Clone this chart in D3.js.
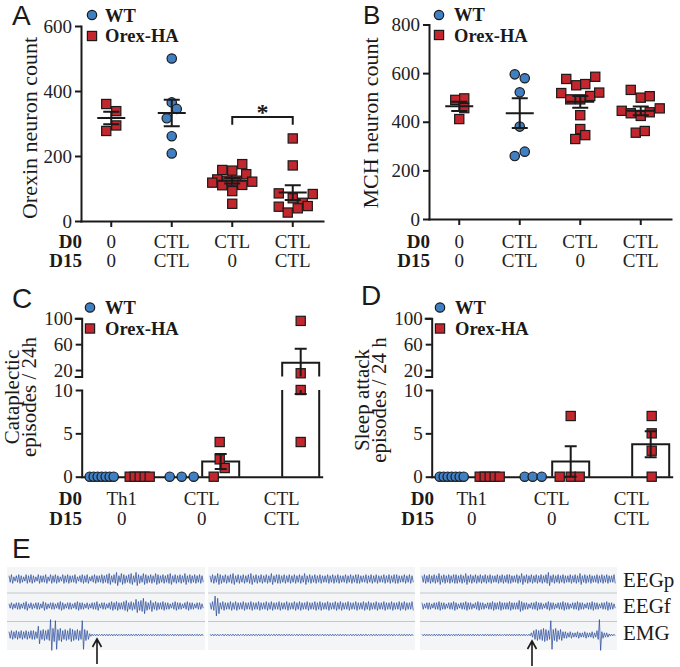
<!DOCTYPE html>
<html><head><meta charset="utf-8">
<script src="https://cdn.jsdelivr.net/npm/d3@7"></script>
<style>body{margin:0;background:#fff}svg{display:block}</style>
</head><body>
<svg id="fig" width="680" height="667"></svg>
<script>
// ---------------- DATA ----------------
// Panels A & B: four groups (D0 / D15 treatment)
const abCats = ["0/0", "CTL/CTL (WT)", "CTL/0", "CTL/CTL"];
const abD0 = ["0", "CTL", "CTL", "CTL"];
const abD15 = ["0", "CTL", "0", "CTL"];
const abGenotype = ["Orex-HA", "WT", "Orex-HA", "Orex-HA"];
const orexinTicks = [0, 200, 400, 600];
const mchTicks = [0, 200, 400, 600, 800];
const orexinValues = [
  [360, 338, 294, 277],
  [500, 365, 345, 316, 261, 208],
  [157, 155, 175, 128, 124, 124, 144, 118, 110, 111, 121, 92, 53],
  [254, 171, 85, 83, 70, 56, 44, 46, 39, 26]
];
const orexinJitter = [
  [-5, 5, 5, -5],
  [0, 0, 5, -5, 0, 0],
  [-10, 0, 10, -15, -5, 4, 14, -20, -10, 10, 20, 0, 0],
  [0, 0, -14, 20, 0, 10, -14, 15, 5, -5]
];
const mchValues = [
  [490, 496, 456, 411],
  [595, 579, 521, 380, 259, 277],
  [576, 550, 555, 585, 518, 492, 492, 506, 520, 427, 370, 345, 329],
  [531, 499, 505, 445, 435, 424, 439, 455, 355, 362]
];
const mchJitter = [
  [-4, 5, 5, 0],
  [-5, 5, 0, 0, -5, 5],
  [-14, -4, 5, 15, -19, -10, 0, 10, 19, 0, 0, 5, -5],
  [-10, 0, 9, -19, -10, 0, 9, 19, -5, 4]
];
const sigPairA = ["CTL/0", "CTL/CTL"];
const sigLegA = 296, sigTopA = 320;

// Panels C & D: six sub-groups (3 treatments x genotype)
const cdCats = ["Th1 WT", "Th1 Orex", "CTL0 WT", "CTL0 Orex", "CTLCTL WT", "CTLCTL Orex"];
const cdGenotype = ["WT", "Orex-HA", "WT", "Orex-HA", "WT", "Orex-HA"];
const cdD0 = ["Th1", "CTL", "CTL"];
const cdD15 = ["0", "0", "CTL"];
const lowTicks = [0, 5, 10];
const highTicks = [20, 60, 100];
const cataValues = [
  [0, 0, 0, 0, 0, 0, 0], [0, 0, 0, 0, 0], [0, 0, 0], [4, 2, 1, 0], [], [96, 15, 10, 4]
];
const cataJitter = [
  [-12, -8, -4, 0, 4, 8, 12], [-12, -7, -2, 3, 8], [-12, 0, 12], [-2, -2, 3, -8], [], [-1, -1, -1, -1]
];
const sleepValues = [
  [0, 0, 0, 0, 0, 0, 0], [0, 0, 0, 0, 0], [0, 0, 0], [0, 0, 0, 7], [], [7, 5, 3, 0]
];
const sleepJitter = [
  [-12, -8, -4, 0, 4, 8, 12], [-12, -7, -2, 3, 8], [-7, 1, 10], [-12, -1, 8, -1], [], [0, 0, 0, 0]
];

// Panel E: envelope amplitudes of the recordings (3 segments x 3 channels)
const channels = ["EEGp", "EEGf", "EMG"];
const eegpTrace = [
  [3,4,2,3,4,3,2,4,3,4,3,2,4,3,3,4,2,4,3,4,3,2,4,3,4,3,3,4,2,3,4,3,4,2,3,4,3,3,4,3,4,5,3,4,6,3,5,4,3,4,5,3,6,4,3,5,4,3,4,3,5,4,3,4,3,4,5,3,4,3,4,3,5,3,4,3,4,3,4,3],
  [3,4,3,5,4,3,4,3,4,5,3,4,3,4,3,4,5,3,4,3,4,3,4,3,5,3,4,4,3,4,3,4,3,4,3,4,3,5,3,4,3,4,3,4,3,3,4,3,4,3,4,3,3,4,3,4,3,4,4,3,3,4,3,4,3,4,3,3,4,3,4,3,4,4,3,3,4,3,4,3],
  [3,4,3,4,3,4,3,5,3,4,3,4,3,4,4,3,4,3,5,3,4,3,4,3,4,3,4,3,4,3,3,4,3,4,3,4,4,3,3,4,3,5,3,4,3,4,3,4,3,4,3,4,6,3,4,3,4,3,4,3,3,4,3,4,3,5,3,4,3,4,3,3,4,3,4,3,4,3,3,4]
];
const eegfTrace = [
  [2,3,2,3,3,2,3,4,2,3,2,3,3,2,4,3,2,3,3,2,3,4,3,2,3,3,2,3,4,3,3,2,3,2,3,3,4,2,3,3,2,3,4,3,4,3,3,4,5,3,4,3,6,4,5,7,4,3,5,3,4,3,3,4,3,3,2,3,4,3,3,2,3,4,3,3,2,3,3,2],
  [3,4,9,7,3,4,3,3,4,3,4,3,3,4,3,3,4,3,3,4,3,3,4,3,4,3,3,4,3,3,4,3,3,4,3,4,3,3,4,3,3,4,3,4,3,3,4,3,3,4,3,4,3,3,4,3,3,4,3,3,4,3,4,3,3,4,3,3,4,3,3,4,3,3,4,3,4,3,3,4],
  [3,2,3,3,2,3,3,4,3,3,2,3,3,4,3,2,3,3,4,3,3,2,3,4,3,3,2,3,3,4,3,3,4,3,3,3,4,3,3,3,5,4,3,3,2,3,3,4,3,3,2,3,4,3,3,2,3,3,4,3,3,2,3,3,4,3,3,2,3,3,4,3,3,2,3,3,4,3,3,2]
];
const emgTrace = [
  [3,4,3,4,3,4,3,4,3,4,4,3,8,4,5,4,5,14,6,13,5,6,4,5,4,6,5,4,5,4,13,5,4,
   1.2,0.8,0.7,0.8,0.6,0.8,0.7,0.8,0.7,0.8,0.7,0.8,0.6,0.8,0.7,0.8,0.7,0.8,0.7,0.8,
   0.7,0.8,0.7,0.8,0.6,0.8,0.7,0.8,0.7,0.8,0.7,0.8,0.7,0.6,0.8,0.7,0.8,0.7,0.8,0.7,
   0.8,0.7,0.8,0.6,0.8,0.7,0.8],
  [0.7,0.8,0.7,0.8,0.6,0.8,0.7,0.8,0.7,0.8,0.7,0.8,0.6,0.8,0.7,0.8,0.7,0.8,0.7,0.8,
   0.7,0.8,0.7,0.8,0.6,0.8,0.7,0.8,0.7,0.8,0.7,0.8,0.7,0.6,0.8,0.7,0.8,0.7,0.8,0.7,
   0.8,0.7,0.8,0.6,0.8,0.7,0.8,0.7,0.8,0.7,0.7,0.8,0.7,0.8,0.6,0.8,0.7,0.8,0.7,0.8,
   0.7,0.8,0.6,0.8,0.7,0.8,0.7,0.8,0.7,0.8,0.7,0.8,0.7,0.6,0.8,0.7,0.8,0.7,0.8,0.7],
  [0.7,0.8,0.7,0.8,0.6,0.8,0.7,0.8,0.7,0.8,0.7,0.8,0.6,0.8,0.7,0.8,0.7,0.8,0.7,0.8,
   0.7,0.8,0.7,0.8,0.6,0.8,0.7,0.8,0.7,0.8,0.7,0.8,0.7,0.6,0.8,0.7,0.8,0.7,0.8,0.7,
   0.8,0.7,0.8,0.6,0.8,
   2,4,5,4,5,6,5,4,13,5,6,4,5,3,3,2,3,2,2,3,2,2,3,2,2,3,2,4,14,3,2,2,1,0.8,0.7]
];

// ---------------- DRAWING ----------------
const svg = d3.select("#fig");
const SERIF = "Liberation Serif, Times New Roman, serif";
const SANS = "Liberation Sans, Arial, sans-serif";
const BLUE = "#3f7fc2", RED = "#c4262e", INK = "#1a1a1a", TXT = "#222";

function styleAxis(g) {
  g.attr("font-family", null).attr("font-size", null);
  g.select(".domain").attr("stroke", INK).attr("stroke-width", 2).attr("stroke-linecap", "square");
  g.selectAll(".tick line").attr("stroke", INK).attr("stroke-width", 2);
  g.selectAll(".tick text").style("font-family", SERIF).attr("font-size", 19).attr("fill", TXT);
}

function markers(g, type, pts) {
  if (type === "WT") {
    g.selectAll(null).data(pts).join("circle")
      .attr("cx", d => d[0]).attr("cy", d => d[1]).attr("r", 4.7)
      .attr("fill", BLUE).attr("stroke", INK).attr("stroke-width", 1.2);
  } else {
    g.selectAll(null).data(pts).join("rect")
      .attr("x", d => d[0] - 4.6).attr("y", d => d[1] - 4.6).attr("width", 9.2).attr("height", 9.2)
      .attr("fill", RED).attr("stroke", INK).attr("stroke-width", 1.2);
  }
}

function legend(cx, cyW, cyO, tx, byW, byO) {
  const g = svg.append("g");
  markers(g, "WT", [[cx, cyW]]);
  markers(g, "Orex-HA", [[cx, cyO]]);
  g.append("text").attr("x", tx).attr("y", byW).text("WT");
  g.append("text").attr("x", tx).attr("y", byO).text("Orex-HA");
  g.selectAll("text").style("font-family", SERIF).attr("font-weight", "bold").attr("font-size", 18.5).attr("fill", INK);
}

function letter(t, x, y, fs) {
  svg.append("text").attr("x", x).attr("y", y).text(t)
    .style("font-family", SANS).attr("font-size", fs || 28).attr("fill", INK);
}

function rowLabels(hx, xs, l0, l15, b0, b15) {
  const g = svg.append("g").style("font-family", SERIF).attr("font-size", 19).attr("fill", TXT);
  g.append("text").attr("x", hx).attr("y", b0).attr("text-anchor", "end").attr("font-weight", "bold").attr("fill", INK).text("D0");
  g.append("text").attr("x", hx).attr("y", b15).attr("text-anchor", "end").attr("font-weight", "bold").attr("fill", INK).text("D15");
  xs.forEach((x, i) => {
    g.append("text").attr("x", x).attr("y", b0).attr("text-anchor", "middle").text(l0[i]);
    g.append("text").attr("x", x).attr("y", b15).attr("text-anchor", "middle").text(l15[i]);
  });
}

function yLabel(lines, x0, cy, dx, fs) {
  const g = svg.append("g").style("font-family", SERIF).attr("font-size", fs || 22).attr("fill", INK);
  lines.forEach((t, i) => {
    g.append("text").attr("transform", `translate(${x0 + i * dx},${cy}) rotate(-90)`)
      .attr("text-anchor", "middle").text(t);
  });
}

function scatterPanel(o) {
  const g = svg.append("g");
  const x = d3.scaleBand().domain(abCats).range([o.x0, o.x1]);
  const y = d3.scaleLinear().domain([0, d3.max(o.ticks)]).range([o.yb, o.yt]);
  const ya = g.append("g").attr("transform", `translate(${o.x0},0)`)
    .call(d3.axisLeft(y).tickValues(o.ticks).tickSize(6).tickSizeOuter(0).tickPadding(3));
  styleAxis(ya);
  const xa = g.append("g").attr("transform", `translate(0,${o.yb})`)
    .call(d3.axisBottom(x).tickSize(6).tickSizeOuter(0).tickFormat(""));
  styleAxis(xa);
  const cx = c => x(c) + x.bandwidth() / 2;
  abCats.forEach((c, i) => {
    const vals = o.values[i];
    markers(g, abGenotype[i], vals.map((v, j) => [cx(c) + o.jitter[i][j], y(v)]));
  });
  abCats.forEach((c, i) => {
    const vals = o.values[i];
    const m = d3.mean(vals), se = d3.deviation(vals) / Math.sqrt(vals.length);
    const X = cx(c);
    g.append("path")
      .attr("d", `M${X - 14},${y(m)}H${X + 14}M${X},${y(m - se)}V${y(m + se)}M${X - 8},${y(m - se)}H${X + 8}M${X - 8},${y(m + se)}H${X + 8}`)
      .attr("stroke", INK).attr("stroke-width", 2).attr("fill", "none");
  });
  if (o.sig) {
    const a = cx(o.sig[0]), b = cx(o.sig[1]);
    g.append("path").attr("d", `M${a},${y(o.sigLeg)}V${y(o.sigTop)}H${b}V${y(o.sigLeg)}`)
      .attr("stroke", INK).attr("stroke-width", 2).attr("fill", "none");
    g.append("text").attr("x", (a + b) / 2).attr("y", y(o.sigTop) + 3).attr("text-anchor", "middle")
      .style("font-family", SERIF).attr("font-weight", "bold").attr("font-size", 24).attr("fill", INK).text("*");
  }
  rowLabels(o.x0 + 1, abCats.map(cx), abD0, abD15, o.b0, o.b15);
}

function brokenPanel(o) {
  const g = svg.append("g");
  const x = d3.scaleBand().domain(cdCats).range([o.x0, o.x1]);
  const lo = d3.scaleLinear().domain([0, 10]).range([o.yb, o.yb - 86.7]);
  const hi = d3.scaleLinear().domain([10, 100]).range([o.yb - 100.2, o.yb - 158.4]);
  const yv = v => v <= 10 ? lo(v) : hi(v);
  const la = g.append("g").attr("transform", `translate(${o.x0},0)`)
    .call(d3.axisLeft(lo).tickValues(lowTicks).tickSize(6).tickSizeOuter(0).tickPadding(3));
  styleAxis(la);
  const ha = g.append("g").attr("transform", `translate(${o.x0},0)`)
    .call(d3.axisLeft(hi).tickValues(highTicks).tickSize(6).tickSizeOuter(6).tickPadding(3));
  styleAxis(ha);
  const xa = g.append("g").attr("transform", `translate(0,${o.yb})`)
    .call(d3.axisBottom(x).tickValues([]).tickSizeOuter(0));
  styleAxis(xa);
  const cx = c => x(c) + x.bandwidth() / 2;
  const vseg = (X, a, b) => {
    if (b <= 10) return `M${X},${lo(a)}V${lo(b)}`;
    if (a >= 10) return `M${X},${hi(a)}V${hi(b)}`;
    return `M${X},${lo(a)}V${lo(10)}M${X},${hi(10)}V${hi(b)}`;
  };
  cdCats.forEach((c, i) => {
    const vals = o.values[i];
    if (!vals.length) return;
    const m = d3.mean(vals);
    if (m <= 0) return;
    const X = cx(c) - 1, hw = 18.5;
    let d;
    if (m <= 10) d = `M${X - hw},${lo(0)}V${lo(m)}H${X + hw}V${lo(0)}`;
    else d = `M${X - hw},${lo(0)}V${lo(10)}M${X - hw},${hi(10)}V${hi(m)}H${X + hw}V${hi(10)}M${X + hw},${lo(10)}V${lo(0)}`;
    g.append("path").attr("d", d).attr("stroke", INK).attr("stroke-width", 2).attr("fill", "none");
  });
  cdCats.forEach((c, i) => {
    const vals = o.values[i];
    markers(g, cdGenotype[i], vals.map((v, j) => [cx(c) + o.jitter[i][j], yv(v)]));
  });
  cdCats.forEach((c, i) => {
    const vals = o.values[i];
    if (vals.length < 2) return;
    const m = d3.mean(vals), se = d3.deviation(vals) / Math.sqrt(vals.length);
    if (se <= 0) return;
    const X = cx(c) - 1;
    const d = vseg(X, m - se, m + se) +
      `M${X - 6},${yv(m - se)}H${X + 6}M${X - 6},${yv(m + se)}H${X + 6}`;
    g.append("path").attr("d", d).attr("stroke", INK).attr("stroke-width", 2).attr("fill", "none");
  });
  const pairs = [0, 2, 4].map(i => (cx(cdCats[i]) + cx(cdCats[i + 1])) / 2);
  rowLabels(o.hx, pairs, cdD0, cdD15, o.b0, o.b15);
}

// Panel A
scatterPanel({x0: 81, x1: 323, yb: 221, yt: 26, ticks: orexinTicks, values: orexinValues, jitter: orexinJitter,
  sig: sigPairA, sigLeg: sigLegA, sigTop: sigTopA, b0: 248, b15: 267});
legend(92, 15, 36, 105, 21.5, 42);
letter("A", 12, 25);
yLabel(["Orexin neuron count"], 37, 128, 0);

// Panel B
scatterPanel({x0: 429, x1: 671, yb: 219, yt: 24.5, ticks: mchTicks, values: mchValues, jitter: mchJitter,
  b0: 248, b15: 267});
legend(439, 15, 35, 454, 21, 42);
letter("B", 363, 24, 26);
yLabel(["MCH neuron count"], 378, 123, 0);

// Panel C
brokenPanel({x0: 81.7, x1: 321.7, yb: 476.7, values: cataValues, jitter: cataJitter, hx: 82, b0: 505, b15: 525});
legend(90, 307.5, 328.5, 105, 313.5, 334.5);
letter("C", 12, 308);
yLabel(["Cataplectic", "episodes / 24h"], 19, 397, 17, 21);

// Panel D
brokenPanel({x0: 431.7, x1: 671.7, yb: 476.7, values: sleepValues, jitter: sleepJitter, hx: 434, b0: 505, b15: 525});
legend(440, 307.5, 328.5, 455, 313.5, 334.5);
letter("D", 361, 305);
yLabel(["Sleep attack", "episodes / 24 h"], 369, 400, 17, 21);

// Panel E
letter("E", 12, 558);
const segX = [[7, 205], [208, 415], [420, 617]];
const rowY = [579, 606, 635];
const traces = [eegpTrace, eegfTrace, emgTrace];
const gE = svg.append("g");
segX.forEach(([a, b], s) => {
  gE.append("rect").attr("x", a).attr("y", 567).attr("width", b - a).attr("height", 83).attr("fill", "#f4f5f7");
  [593, 621.5].forEach(yy => gE.append("line").attr("x1", a).attr("x2", b).attr("y1", yy).attr("y2", yy)
    .attr("stroke", "#c4c6cc").attr("stroke-width", 1));
  traces.forEach((tr, c) => {
    const amps = tr[s];
    const xs = d3.scaleLinear().domain([0, amps.length - 1]).range([a + 2, b - 3]);
    const ys = d3.scaleLinear().domain([-10, 10]).range([rowY[c] + 11, rowY[c] - 11]);
    const dx = (xs(1) - xs(0)) / 2;
    const pts = [];
    amps.forEach((v, i) => { pts.push([xs(i), ys(v)]); pts.push([xs(i) + dx, ys(-v)]); });
    gE.append("path").attr("d", d3.line()(pts)).attr("fill", "none")
      .attr("stroke", "#24479a").attr("stroke-width", 0.7);
  });
});
channels.forEach((t, i) => {
  gE.append("text").attr("x", 623).attr("y", [587, 613, 640][i]).text(t)
    .style("font-family", SERIF).attr("font-size", 21).attr("fill", INK);
});
[[97, 664, 639], [532, 666, 641]].forEach(([x, y0, y1]) => {
  gE.append("path").attr("d", `M${x},${y0}V${y1}M${x - 4.5},${y1 + 8}L${x},${y1}L${x + 4.5},${y1 + 8}`)
    .attr("stroke", INK).attr("stroke-width", 1.6).attr("fill", "none");
});
</script>
</body></html>
